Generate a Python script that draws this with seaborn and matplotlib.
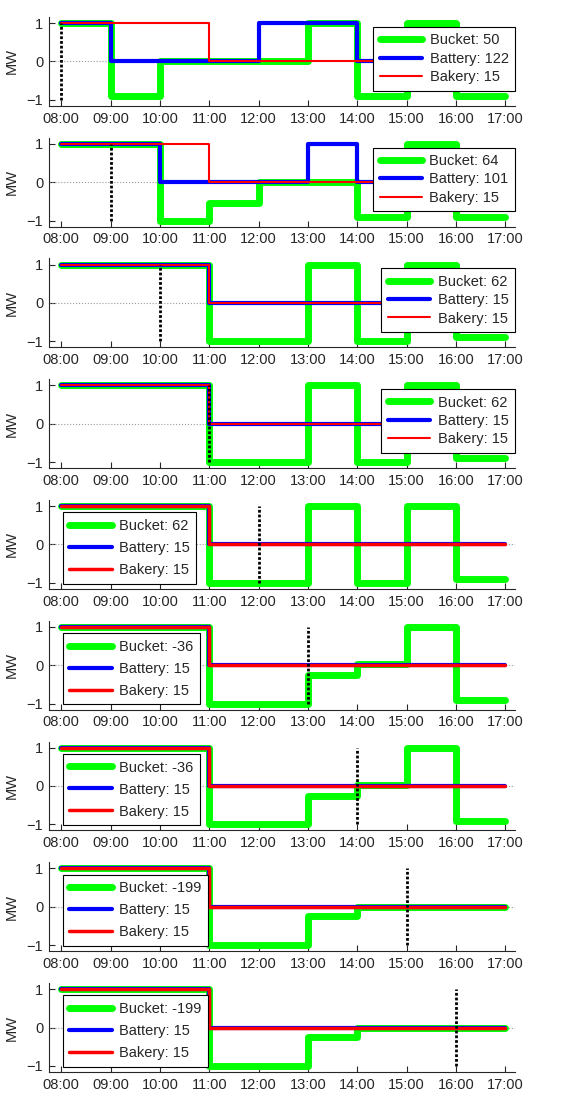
import numpy as np
import pandas as pd
import seaborn as sns
import matplotlib
matplotlib.use("Agg")
import matplotlib.pyplot as plt
from matplotlib.ticker import FuncFormatter

# hourly set-points (MW), one value per hour slot 08:00 .. 16:00
hours = [8, 9, 10, 11, 12, 13, 14, 15, 16]

bucket = [
    [1, -0.9, 0, 0, 0, 1, -0.9, 1, -0.9],
    [1, 1, -1, -0.55, 0, 0, -0.9, 1, -0.9],
    [1, 1, 1, -1, -1, 1, -1, 1, -0.9],
    [1, 1, 1, -1, -1, 1, -1, 1, -0.9],
    [1, 1, 1, -1, -1, 1, -1, 1, -0.9],
    [1, 1, 1, -1, -1, -0.25, 0.03, 1, -0.9],
    [1, 1, 1, -1, -1, -0.25, 0.03, 1, -0.9],
    [1, 1, 1, -1, -1, -0.25, 0, 0, 0],
    [1, 1, 1, -1, -1, -0.25, 0, 0, 0],
]
battery = [
    [1, 0, 0, 0, 1, 1, 0, 0, 0],
    [1, 1, 0, 0, 0, 1, 0, 0, 0],
] + [[1, 1, 1, 0, 0, 0, 0, 0, 0]] * 7
bakery = [[1, 1, 1, 0, 0, 0, 0, 0, 0]] * 9

bucket_cost = [50, 64, 62, 62, 62, -36, -36, -199, -199]
battery_cost = [122, 101, 15, 15, 15, 15, 15, 15, 15]
bakery_cost = [15] * 9
current_hour = [8, 9, 10, 11, 12, 13, 14, 15, 16]
legend_pos = ["right"] * 4 + ["left"] * 5

sns.set_style("ticks")
plt.rcParams["font.family"] = ["Liberation Sans", "DejaVu Sans"]
plt.rcParams["font.size"] = 10

fig, axes = plt.subplots(9, 1, figsize=(5.82, 10.94), dpi=100)
fig.subplots_adjust(left=0.084, right=0.885, top=0.9845, bottom=0.0201, hspace=0.357)

x = hours + [17]


def steps(vals):
    # repeat last slot so the step reaches 17:00
    return list(vals) + [vals[-1]]


for i, ax in enumerate(axes):
    red_lw = 1.5 if legend_pos[i] == "right" else 2.5
    ax.axhline(0, color="#999999", ls=":", lw=0.8, zorder=1)
    sns.lineplot(x=x, y=steps(bucket[i]), ax=ax, color="#00ff00", lw=5,
                 drawstyle="steps-post", label=f"Bucket: {bucket_cost[i]}", zorder=2)
    sns.lineplot(x=x, y=steps(battery[i]), ax=ax, color="#0000ff", lw=3,
                 drawstyle="steps-post", label=f"Battery: {battery_cost[i]}", zorder=3)
    sns.lineplot(x=x, y=steps(bakery[i]), ax=ax, color="#ff0000", lw=red_lw,
                 drawstyle="steps-post", label=f"Bakery: {bakery_cost[i]}", zorder=4)
    ax.vlines(current_hour[i], -1, 1, colors="black", linestyles=(0, (1, 0.7)), lw=2, zorder=5)

    ax.set_xlim(7.75, 17.2)
    ax.set_ylim(-1.16, 1.16)
    ax.set_xticks(range(8, 18))
    ax.xaxis.set_major_formatter(FuncFormatter(lambda v, p: f"{int(v):02d}:00"))
    ax.set_yticks([-1, 0, 1])
    ax.tick_params(direction="in", length=4, width=0.8, labelsize=10.5, pad=4)
    ax.set_ylabel("MW", fontsize=10.5, labelpad=6)
    ax.set_xlabel("")
    sns.despine(ax=ax)
    for s in ("left", "bottom"):
        ax.spines[s].set_linewidth(0.8)

    common = dict(fontsize=10.5, handlelength=2.9, fancybox=False, framealpha=1,
                  edgecolor="black", borderpad=0.45, borderaxespad=0,
                  handletextpad=0.5)
    if legend_pos[i] == "right":
        leg = ax.legend(loc="upper right", bbox_to_anchor=(1.0, 0.89),
                        labelspacing=0.3, **common)
    else:
        leg = ax.legend(loc="upper left", bbox_to_anchor=(0.03, 0.86),
                        labelspacing=0.55, **common)
    leg.get_frame().set_linewidth(0.8)
    leg.set_zorder(10)

fig.savefig("out.png", dpi=100)
